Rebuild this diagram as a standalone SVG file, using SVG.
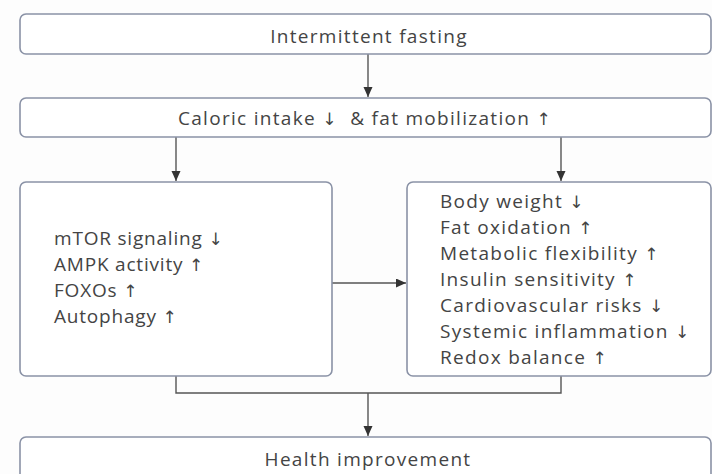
<svg xmlns="http://www.w3.org/2000/svg" width="712" height="474" viewBox="0 0 712 474">
  <defs>
    <style>
      .box { fill: #ffffff; stroke: #8a92a6; stroke-width: 1.6; }
      .t { font-family: "Open Sans", "Liberation Sans", sans-serif; font-size: 19px; fill: #444444; letter-spacing: 1.3px; }
      .l { letter-spacing: 0.8px; }
      .c { text-anchor: middle; }
      .ar { font-family: "DejaVu Sans", sans-serif; font-size: 17px; fill: #444444; }
      .conn { fill: none; stroke: #555555; stroke-width: 1.4; }
    </style>
    <marker id="arrow" markerUnits="userSpaceOnUse" markerWidth="11" markerHeight="10" refX="10" refY="4.5" orient="auto">
      <path d="M0,0 L10,4.5 L0,9 z" fill="#333333"/>
    </marker>
  </defs>
  <rect x="0" y="0" width="712" height="474" fill="#fdfdfd"/>

  <g id="connectors">
    <line class="conn" x1="368" y1="54" x2="368" y2="97" marker-end="url(#arrow)"/>
    <line class="conn" x1="176" y1="137" x2="176" y2="181" marker-end="url(#arrow)"/>
    <line class="conn" x1="561" y1="137" x2="561" y2="181" marker-end="url(#arrow)"/>
    <line class="conn" x1="332" y1="283" x2="406" y2="283" marker-end="url(#arrow)"/>
    <polyline class="conn" points="176,376 176,393 561,393 561,376"/>
    <line class="conn" x1="368" y1="393" x2="368" y2="436" marker-end="url(#arrow)"/>
  </g>

  <g id="n1">
    <rect class="box" x="20" y="14" width="691" height="40" rx="6"/>
    <text class="t c" x="369" y="43">Intermittent fasting</text>
  </g>

  <g id="n2">
    <rect class="box" x="20" y="98" width="691" height="39" rx="6"/>
    <text class="t c" x="365" y="125" xml:space="preserve">Caloric intake <tspan class="ar">↓</tspan>  &amp; fat mobilization <tspan class="ar">↑</tspan></text>
  </g>

  <g id="n3">
    <rect class="box" x="20" y="182" width="312" height="194" rx="6"/>
    <text class="t l" x="54" y="245">mTOR signaling <tspan class="ar">↓</tspan></text>
    <text class="t l" x="54" y="271">AMPK activity <tspan class="ar">↑</tspan></text>
    <text class="t l" x="54" y="297">FOXOs <tspan class="ar">↑</tspan></text>
    <text class="t l" x="54" y="323">Autophagy <tspan class="ar">↑</tspan></text>
  </g>

  <g id="n4">
    <rect class="box" x="407" y="182" width="304" height="194" rx="6"/>
    <text class="t" x="440" y="208">Body weight <tspan class="ar">↓</tspan></text>
    <text class="t" x="440" y="234">Fat oxidation <tspan class="ar">↑</tspan></text>
    <text class="t" x="440" y="260">Metabolic flexibility <tspan class="ar">↑</tspan></text>
    <text class="t" x="440" y="286">Insulin sensitivity <tspan class="ar">↑</tspan></text>
    <text class="t" x="440" y="312">Cardiovascular risks <tspan class="ar">↓</tspan></text>
    <text class="t" x="440" y="338">Systemic inflammation <tspan class="ar">↓</tspan></text>
    <text class="t" x="440" y="364">Redox balance <tspan class="ar">↑</tspan></text>
  </g>

  <g id="n5">
    <rect class="box" x="20" y="437" width="691" height="50" rx="6"/>
    <text class="t c" x="368" y="466">Health improvement</text>
  </g>
</svg>
